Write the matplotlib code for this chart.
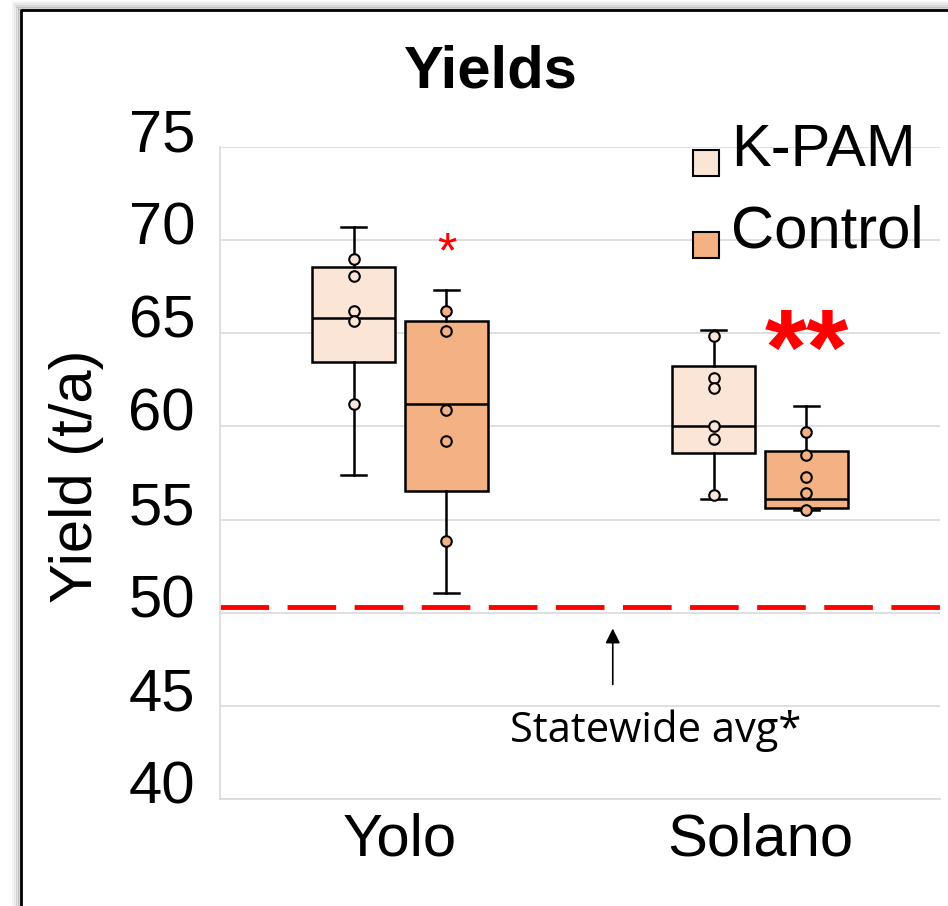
import numpy as np
import matplotlib
matplotlib.use('Agg')
import matplotlib.pyplot as plt
from matplotlib.patches import Patch, Rectangle
from matplotlib.legend_handler import HandlerPatch
from matplotlib.lines import Line2D
from matplotlib.transforms import ScaledTranslation

plt.rcParams['font.family'] = ['Liberation Sans', 'DejaVu Sans']

# Data (t/a)
sites = ['Yolo', 'Solano']
groups = ['K-PAM', 'Control']

# box statistics: whisker low, Q1, median, Q3, whisker high
yolo_kpam_box = [57.4, 63.45, 65.8, 68.55, 70.7]
yolo_ctrl_box = [51.05, 56.55, 61.2, 65.65, 67.3]
solano_kpam_box = [56.1, 58.55, 60.0, 63.25, 65.2]
solano_ctrl_box = [55.5, 55.6, 56.1, 58.7, 61.1]

# individual plot points shown inside the boxes
yolo_kpam_pts = [69.0, 68.1, 66.2, 65.65, 61.2]
yolo_ctrl_pts = [66.2, 65.1, 60.9, 59.2, 53.85]
solano_kpam_pts = [64.85, 62.6, 62.05, 60.0, 59.3, 56.3]
solano_ctrl_pts = [59.7, 58.45, 57.3, 56.45, 55.5]

statewide_avg = 50.3
signif = ['*', '**']
signif_y = [69.23, 63.8]

colors = {'K-PAM': '#FBE5D6', 'Control': '#F4B183'}

boxes = {('Yolo', 'K-PAM'): (yolo_kpam_box, yolo_kpam_pts),
         ('Yolo', 'Control'): (yolo_ctrl_box, yolo_ctrl_pts),
         ('Solano', 'K-PAM'): (solano_kpam_box, solano_kpam_pts),
         ('Solano', 'Control'): (solano_ctrl_box, solano_ctrl_pts)}

W, H = 948, 906
fig = plt.figure(figsize=(W / 100, H / 100), dpi=100)
ax = fig.add_axes([220 / W, 1 - 799 / H, 720 / W, 652 / H])

offset = 0.129
width = 0.23
for i, site in enumerate(sites):
    for j, grp in enumerate(groups):
        stats, pts = boxes[(site, grp)]
        pos = i + (offset if j else -offset)
        lo, q1, med, q3, hi = stats
        st = [dict(whislo=lo, q1=q1, med=med, q3=q3, whishi=hi, fliers=[])]
        ax.bxp(st, positions=[pos], widths=width, patch_artist=True,
               showfliers=False, capwidths=0.07,
               boxprops=dict(facecolor=colors[grp], edgecolor='black', linewidth=1.8),
               medianprops=dict(color='black', linewidth=1.8),
               whiskerprops=dict(color='black', linewidth=1.8),
               capprops=dict(color='black', linewidth=1.8), zorder=3)
        ax.plot([pos] * len(pts), pts, 'o', ms=7.6, mfc=colors[grp], mec='black',
                mew=1.5, zorder=4)

# significance stars
ax.text(0 + offset, signif_y[0], signif[0], color='red', fontsize=36,
        ha='center', va='center', zorder=5)
ax.text(1 + offset, signif_y[1], signif[1], color='red', fontsize=78,
        fontweight='bold', ha='center', va='center', zorder=5)

# statewide average line
ax.axhline(statewide_avg, color='red', lw=3.5, dashes=(10, 3.8), zorder=2)
ax.annotate('', xy=(0.591, 49.3), xytext=(0.591, 46.0),
            arrowprops=dict(arrowstyle='-|>', color='black', lw=1.2,
                            mutation_scale=22))
ax.text(0.711, 43.08, 'Statewide avg*', fontsize=30, family='Open Sans',
        ha='center', va='baseline')

ax.set_xlim(-0.5, 1.5)
ax.set_ylim(40, 75)
ax.set_yticks(np.arange(40, 76, 5))
ax.set_xticks(range(len(sites)))
ax.set_xticklabels(sites)
ax.tick_params(axis='both', length=0, labelsize=43)
ax.tick_params(axis='y', pad=18)
ax.tick_params(axis='x', pad=10)
ax.grid(axis='y', color='#D9D9D9', lw=1.2, zorder=0)
ax.set_axisbelow(True)
for s in ['top', 'right']:
    ax.spines[s].set_visible(False)
for s in ['left', 'bottom']:
    ax.spines[s].set_color('#D9D9D9')
    ax.spines[s].set_linewidth(1.2)

# y labels sit a little above their gridlines in the original
for tick in ax.yaxis.get_major_ticks():
    tick.label1.set_transform(tick.label1.get_transform()
                              + ScaledTranslation(0, 17 / 100, fig.dpi_scale_trans))


def square_handle(legend, orig_handle, xdescent, ydescent, width, height, fontsize):
    return Rectangle((-xdescent, -ydescent - 0.5 * height), width, width)


handles = [Patch(facecolor=colors[g], edgecolor='black', lw=1.5) for g in groups]
ax.legend(handles, groups, loc='upper left', bbox_to_anchor=(693 / W, 1 - 123 / H),
          bbox_transform=fig.transFigure, frameon=False, fontsize=43,
          handlelength=0.43, handleheight=0.43, handletextpad=0.2,
          borderpad=0, borderaxespad=0, labelspacing=0.45,
          handler_map={Patch: HandlerPatch(patch_func=square_handle)})

fig.text(490 / W, 1 - 87 / H, 'Yields', fontsize=43, fontweight='bold',
         ha='center', va='baseline')
fig.text(76 / W, 1 - 476 / H, 'Yield (t/a)', fontsize=43, rotation=90,
         ha='center', va='center')

# slide frame with a soft shadow
for k, a in enumerate([0.08, 0.15, 0.25, 0.35]):
    fig.add_artist(Line2D([(13 + 2 * k) / W] * 2, [0, 1 - (4 + 2 * k) / H],
                          transform=fig.transFigure, color='gray', alpha=a, lw=2))
    fig.add_artist(Line2D([(13 + 2 * k) / W, 1], [1 - (2 + 2 * k) / H] * 2,
                          transform=fig.transFigure, color='gray', alpha=a, lw=2))
fig.add_artist(Line2D([21 / W, 21 / W, 1], [0, 1 - 10 / H, 1 - 10 / H],
                      transform=fig.transFigure, color='black', lw=2))

fig.savefig('out.png', dpi=100)
